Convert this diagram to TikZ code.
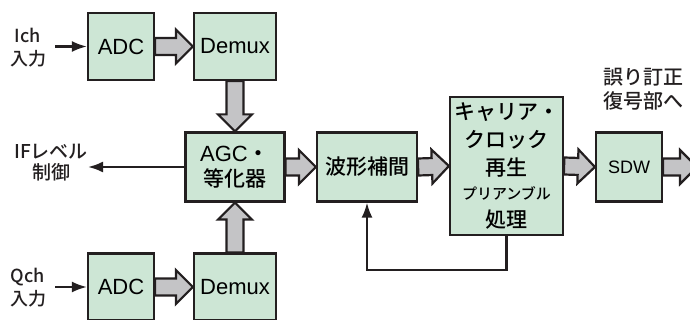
\documentclass[tikz,border=0pt]{standalone}
\usepackage{fontspec}
\usepackage{tikz}
\usetikzlibrary{calc,arrows.meta}
\setmainfont{Liberation Sans}
\newfontfamily\jp{Noto Sans CJK JP Medium}

\definecolor{boxfill}{RGB}{205,230,213}
\definecolor{boxline}{RGB}{35,31,32}
\definecolor{fatfill}{RGB}{196,196,198}

\tikzset{
	blk/.style={draw=boxline, fill=boxfill, line width=2.2pt, inner sep=0pt,
		align=center, font=\fontsize{22}{25}\selectfont},
	fatline/.style={draw=boxline, fill=fatfill, line width=2.2pt},
	sig/.style={draw=boxline, line width=2.2pt, -{Latex[length=15pt,width=11pt]}},
	lbl/.style={inner sep=0pt, align=center, text=boxline}
}

% thick grey block arrow from #1 to #2
\newcommand{\fatarrow}[2]{%
	\coordinate (neck) at ($(#2)!17pt!(#1)$);
	\draw[fatline] ($(#1)!8.5pt!90:(#2)$) -- ($(neck)!8.5pt!90:(#2)$)
		-- ($(neck)!17pt!90:(#2)$) -- (#2) -- ($(neck)!17pt!-90:(#2)$)
		-- ($(neck)!8.5pt!-90:(#2)$) -- ($(#1)!8.5pt!-90:(#2)$) -- cycle;}

\begin{document}
\begin{tikzpicture}[x=1pt,y=-1pt]
	\useasboundingbox (0,0) rectangle (690,320);

	\node[blk, minimum width=66pt, minimum height=67pt] (adcI) at (121,46.5) {ADC};
	\node[blk, minimum width=82pt, minimum height=67pt] (demuxI) at (235,46.5) {Demux};
	\node[blk, minimum width=99pt, minimum height=69pt] (agc) at (235,167) {AGC{\jp ・}\\{\jp\fontsize{21}{25}\selectfont 等化器}};
	\node[blk, minimum width=66pt, minimum height=67pt] (adcQ) at (121,287) {ADC};
	\node[blk, minimum width=82pt, minimum height=67pt] (demuxQ) at (235,287) {Demux};
	\node[blk, minimum width=100pt, minimum height=69pt, font=\jp\fontsize{21}{25}\selectfont] (hokan) at (367,167) {波形補間};
	\node[blk, minimum width=113pt, minimum height=138pt, font=\jp\fontsize{21}{28}\selectfont] (carrier) at (506.5,166)
		{キャリア・\\クロック\\再生\\[-4pt]{\fontsize{15}{17}\selectfont プリアンブル}\\[0pt]処理};
	\node[blk, minimum width=66pt, minimum height=69pt, font=\fontsize{18}{20}\selectfont] (sdw) at (629,167) {SDW};
	\coordinate (out) at (697,167);

	\node[lbl, font=\jp\fontsize{18}{23}\selectfont] (ich) at (28,48) {Ich\\入力};
	\node[lbl, font=\jp\fontsize{18}{23}\selectfont] (qch) at (28,288) {Qch\\入力};
	\node[lbl, font=\jp\fontsize{19}{21}\selectfont] (ifctl) at (51,163) {IFレベル\\制御};
	\node[lbl, font=\jp\fontsize{20}{24}\selectfont] (errdec) at (643,89) {誤り訂正\\復号部へ};

	\fatarrow{adcI.east}{demuxI.west}
	\fatarrow{adcQ.east}{demuxQ.west}
	\fatarrow{demuxI.south}{agc.north}
	\fatarrow{demuxQ.north}{agc.south}
	\fatarrow{agc.east}{hokan.west}
	\fatarrow{hokan.east}{carrier.west}
	\fatarrow{carrier.east}{sdw.west}
	\fatarrow{sdw.east}{out}

	\draw[sig] ([xshift=9pt]ich.east |- adcI.west) -- (adcI.west);
	\draw[sig] ([xshift=9pt]qch.east |- adcQ.west) -- (adcQ.west);
	\draw[sig] (agc.west) -- (agc.west -| ifctl.east);
	\draw[sig] (carrier.south) -- ++(0,34) -| (hokan.south);
\end{tikzpicture}
\end{document}
